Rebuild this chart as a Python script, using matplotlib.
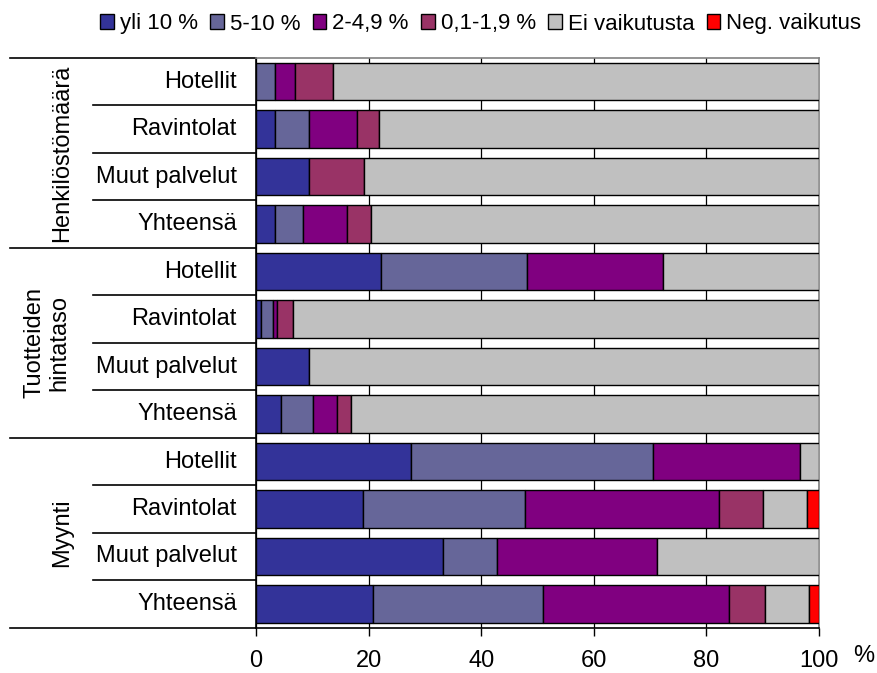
import matplotlib
matplotlib.use("Agg")
import matplotlib.pyplot as plt
import matplotlib.transforms as mtransforms
from matplotlib.patches import Patch
import numpy as np

plt.rcParams['font.family'] = ['Liberation Sans', 'DejaVu Sans']

groups = ["Henkilöstömäärä", "Tuotteiden\nhintataso", "Myynti"]
subcats = ["Hotellit", "Ravintolat", "Muut palvelut", "Yhteensä"]
series = ["yli 10 %", "5-10 %", "2-4,9 %", "0,1-1,9 %", "Ei vaikutusta", "Neg. vaikutus"]
colors = ["#333399", "#666699", "#800080", "#993366", "#C0C0C0", "#FF0000"]

# rows: top to bottom
yli10 = [0.0, 3.3, 9.4, 3.3, 22.2, 0.9, 9.5, 4.4, 27.6, 19.0, 33.2, 20.8]
p5_10 = [3.3, 6.1, 0.0, 5.0, 25.9, 2.1, 0.0, 5.7, 42.9, 28.8, 9.6, 30.2]
p2_49 = [3.6, 8.5, 0.0, 7.9, 24.2, 0.8, 0.0, 4.3, 26.2, 34.4, 28.5, 33.1]
p01_19 = [6.8, 3.9, 9.7, 4.2, 0.0, 2.8, 0.0, 2.5, 0.0, 7.9, 0.0, 6.3]
ei = [86.3, 78.2, 80.9, 79.6, 27.7, 93.4, 90.5, 83.1, 3.3, 7.8, 28.7, 7.8]
neg = [0.0, 0.0, 0.0, 0.0, 0.0, 0.0, 0.0, 0.0, 0.0, 2.1, 0.0, 1.8]

data = [yli10, p5_10, p2_49, p01_19, ei, neg]
n = len(yli10)
labels = subcats * 3

fig = plt.figure(figsize=(8.78, 6.73), dpi=100)
ax = fig.add_axes([256/878, 1 - 627.7/673, (819-256)/878, (627.7-58)/673])

y = np.arange(n)
left = np.zeros(n)
for vals, col in zip(data, colors):
    v = np.array(vals)
    mask = v > 0
    ax.barh(y[mask], v[mask], left=left[mask], height=0.79, color=col,
            edgecolor='black', linewidth=1.0, zorder=3)
    left += v

ax.set_xlim(0, 100)
ax.set_ylim(n - 0.5, -0.5)
ax.set_xticks([0, 20, 40, 60, 80, 100])
ax.set_xticklabels(["0", "20", "40", "60", "80", "100"], fontsize=17)
ax.tick_params(axis='x', direction='out', length=6, width=1.0, pad=10, colors='black')
ax.set_yticks([])
ax.xaxis.grid(True, color='black', linewidth=0.9, zorder=0)
ax.set_axisbelow(True)
for s in ['left', 'bottom']:
    ax.spines[s].set_color('black')
    ax.spines[s].set_linewidth(1.2)
for s in ['top', 'right']:
    ax.spines[s].set_color('#808080')
    ax.spines[s].set_linewidth(1.2)

trans = mtransforms.blended_transform_factory(ax.transAxes, ax.transData)
x_sub = (92.7 - 256) / 563
x_grp = (10 - 256) / 563
for k in range(n + 1):
    yb = k - 0.5
    xs = x_grp if k % 4 == 0 else x_sub
    ax.plot([xs, 0], [yb, yb], color='black', linewidth=1.2, transform=trans, clip_on=False)

x_lab = (237 - 256) / 563
for i, lab in enumerate(labels):
    ax.text(x_lab, i, lab, transform=trans, ha='right', va='center', fontsize=17)

gx = [(62 - 256) / 563, (47 - 256) / 563, (62 - 256) / 563]
for g, (name, xg) in enumerate(zip(groups, gx)):
    ax.text(xg, 4 * g + 1.5, name, transform=trans, ha='center', va='center',
            rotation=90, fontsize=17, linespacing=1.15, multialignment='center')

fig.text(864/878, 1 - 656/673, "%", ha='center', va='center', fontsize=17)

handles = [Patch(facecolor=c, edgecolor='black', linewidth=1.0) for c in colors]
fig.legend(handles, series, loc='center left', bbox_to_anchor=(100/878, 1 - 24/673),
           ncol=6, frameon=False, fontsize=16, handlelength=0.62, handleheight=0.62,
           handletextpad=0.27, columnspacing=0.55, borderpad=0, borderaxespad=0)

fig.savefig("out.png", dpi=100)
